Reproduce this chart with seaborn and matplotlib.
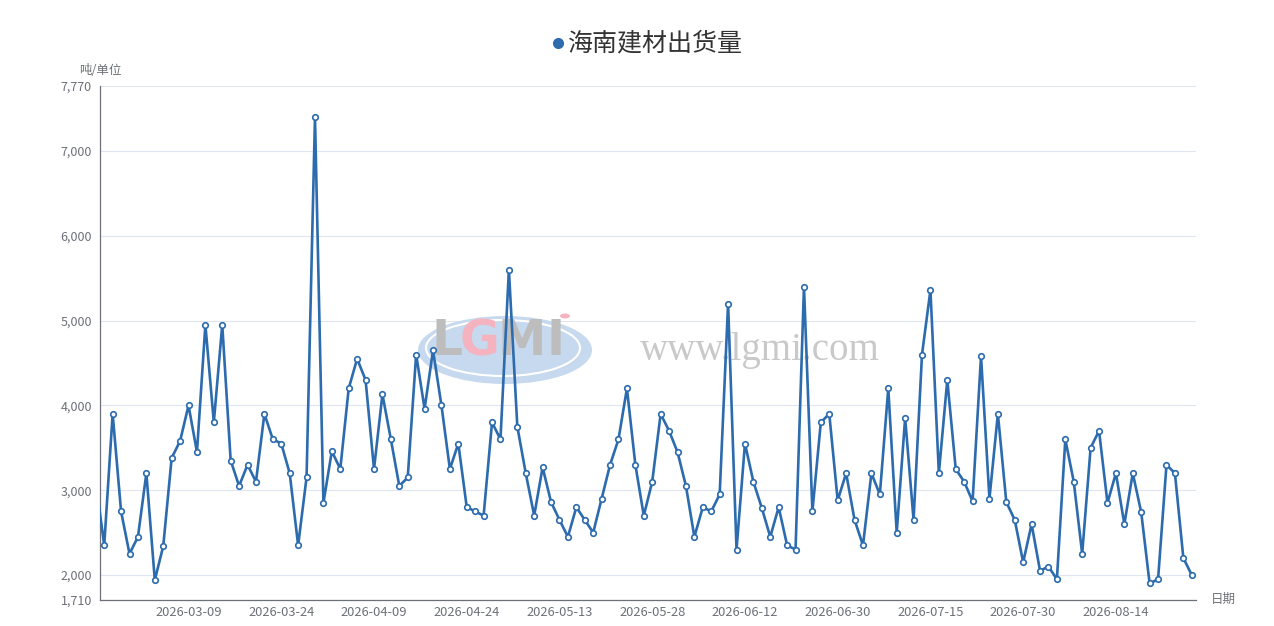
import matplotlib.pyplot as plt
import pandas as pd
import seaborn as sns
from matplotlib.lines import Line2D
from matplotlib.patches import Circle, Ellipse, Rectangle
from matplotlib.ticker import FuncFormatter
from matplotlib.transforms import blended_transform_factory

# daily shipments, first value sits just left of the visible window
shipments = [
    3100,
    2350, 3900, 2750, 2250, 2450, 3200, 1940, 2340, 3380, 3580,
    4000, 3450, 4950, 3800, 4950, 3350, 3050, 3300, 3100, 3900,
    3600, 3550, 3200, 2350, 3150, 7400, 2850, 3460, 3250, 4200,
    4550, 4300, 3250, 4130, 3600, 3050, 3150, 4600, 3960, 4650,
    4000, 3250, 3550, 2800, 2750, 2700, 3800, 3600, 5600, 3750,
    3200, 2700, 3270, 2860, 2650, 2450, 2800, 2650, 2500, 2900,
    3300, 3600, 4200, 3300, 2700, 3100, 3900, 3700, 3450, 3050,
    2450, 2800, 2750, 2950, 5200, 2300, 3550, 3100, 2790, 2450,
    2800, 2350, 2300, 5400, 2750, 3800, 3900, 2880, 3200, 2650,
    2350, 3200, 2950, 4200, 2500, 3850, 2650, 4600, 5360, 3200,
    4300, 3250, 3100, 2870, 4580, 2900, 3900, 2860, 2650, 2150,
    2600, 2050, 2100, 1950, 3600, 3100, 2250, 3500, 3700, 2850,
    3200, 2600, 3200, 2740, 1900, 1950, 3300, 3200, 2200, 2000,
]
date_labels = [
    "2026-03-09", "2026-03-24", "2026-04-09", "2026-04-24", "2026-05-13",
    "2026-05-28", "2026-06-12", "2026-06-30", "2026-07-15", "2026-07-30",
    "2026-08-14",
]
label_step = 11
y_ticks = [1710, 2000, 3000, 4000, 5000, 6000, 7000, 7770]
series_name = "海南建材出货量"

BLUE = "#2c6bad"
AXIS = "#6e7079"
GRID = "#e0e6f1"
W, H = 1274, 626


def fx(px):
    return px / W


def fy(py):
    return 1 - py / H


sns.set_theme(style="white")
plt.rcParams["font.family"] = ["Noto Sans CJK SC", "DejaVu Sans"]

df = pd.DataFrame({"pos": range(len(shipments)), "value": shipments})
label_pos = [label_step * (i + 1) for i in range(len(date_labels))]
last = len(shipments) - 1

fig = plt.figure(figsize=(12.74, 6.26), dpi=100)
ax = fig.add_axes([fx(100), fy(599.6), fx(1196) - fx(100), fy(85.7) - fy(599.6)])

sns.lineplot(
    data=df, x="pos", y="value", ax=ax, color=BLUE, linewidth=1.9,
    marker="o", markersize=4, markerfacecolor="white", markeredgecolor=BLUE,
    markeredgewidth=1.2, zorder=3, legend=False,
)
# the first segment is cut at the axis, its marker stays hidden
clip = Rectangle((0.46, 0), last + 0.6 - 0.46, 1,
                 transform=blended_transform_factory(ax.transData, ax.transAxes))
ax.lines[0].set_clip_path(clip)

ax.set_xlim(0.5, last + 0.5)
ax.set_ylim(y_ticks[0], y_ticks[-1])
ax.set_yticks(y_ticks)
ax.yaxis.set_major_formatter(FuncFormatter(lambda v, p: f"{v:,.0f}"))
ax.set_xticks(label_pos)
ax.set_xticklabels(date_labels)
ax.set_xticks([p - 0.5 for p in label_pos] + [last + 0.5], minor=True)
ax.tick_params(axis="y", length=2.9, width=0.72, color=AXIS, labelcolor=AXIS, labelsize=9, pad=2.9)
ax.tick_params(axis="x", which="major", length=0, labelcolor=AXIS, labelsize=9.3, pad=4.5)
ax.tick_params(axis="x", which="minor", length=3.6, width=0.72, color=AXIS)
ax.grid(axis="y", color=GRID, linewidth=0.8)
ax.set_axisbelow(True)
ax.set_xlabel("")
ax.set_ylabel("")
sns.despine(ax=ax)
for side in ["left", "bottom"]:
    ax.spines[side].set_color(AXIS)
    ax.spines[side].set_linewidth(0.9)

# watermark
tf = fig.transFigure
ax.add_patch(Ellipse((fx(505), fy(350)), 174 / W, 68 / H, transform=tf,
                     facecolor="#c6d9ee", edgecolor="none", zorder=1))
ax.add_patch(Ellipse((fx(503), fy(348)), 154 / W, 56 / H, transform=tf,
                     facecolor="none", edgecolor="white", linewidth=1.5, zorder=1))
for ch, px, col in [("L", 447, "#bdbdbd"), ("G", 480, "#f4b3be"),
                    ("M", 522, "#bdbdbd"), ("I", 556, "#bdbdbd")]:
    ax.text(fx(px), fy(341), ch, transform=tf, ha="center", va="center",
            fontsize=35, fontweight="bold", color=col, family="DejaVu Sans", zorder=1.5)
ax.add_patch(Circle((fx(565), fy(316)), 5 / W, transform=tf,
                    facecolor="#f4b3be", edgecolor="none", zorder=1.5))
ax.text(fx(760), fy(350), "www.lgmi.com", transform=tf, ha="center", va="center",
        fontsize=28, color="#c9c9c9", family="Liberation Serif", zorder=1.5)

# axis names and legend
fig.text(fx(100.5), fy(70), "吨/单位", ha="center", va="center", fontsize=9, color=AXIS)
fig.text(fx(1211), fy(599), "日期", ha="left", va="center", fontsize=9, color=AXIS)
fig.add_artist(Line2D([fx(558)], [fy(43)], marker="o", linestyle="none", markersize=7,
                      color=BLUE, transform=tf))
fig.text(fx(568), fy(43), series_name, ha="left", va="center", fontsize=18, color="#333333")

fig.savefig("out.png", dpi=100)
